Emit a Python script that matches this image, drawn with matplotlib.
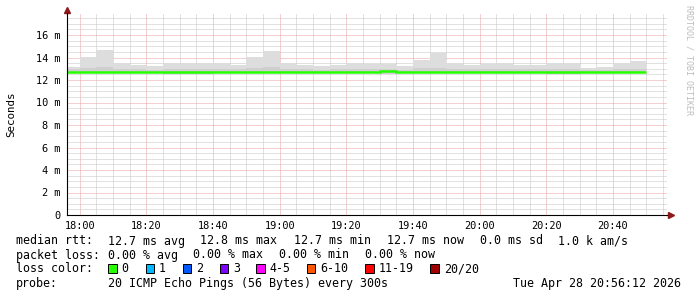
import matplotlib
matplotlib.use("Agg")
import matplotlib.pyplot as plt
import numpy as np

# smokeping style latency graph, 5 minute bins, minutes after 18:00
bin_edges = np.arange(-5, 175, 5)
smoke_hi = [13.13, 14.01, 14.67, 13.48, 13.33, 13.21, 13.48, 13.48, 13.48, 13.48,
            13.33, 14.01, 14.60, 13.48, 13.33, 13.21, 13.33, 13.50, 13.42, 13.42,
            13.21, 13.81, 14.37, 13.50, 13.36, 13.42, 13.50, 13.36, 13.36, 13.48,
            13.48, 13.07, 13.18, 13.50, 13.72]
smoke_lo = [12.62, 12.62, 12.62, 12.62, 12.62, 12.62, 12.50, 12.50, 12.52, 12.62,
            12.62, 12.62, 12.62, 12.62, 12.62, 12.62, 12.62, 12.62, 12.62, 12.53,
            12.62, 12.62, 12.62, 12.62, 12.62, 12.62, 12.62, 12.62, 12.62, 12.53,
            12.53, 12.62, 12.62, 12.62, 12.62]
inner_hi = [12.95, 13.10, 13.15, 12.95, 12.95, 12.90, 12.95, 12.95, 12.95, 12.95,
            12.95, 13.10, 13.15, 12.95, 12.95, 12.90, 12.95, 12.95, 12.95, 12.95,
            12.90, 13.05, 13.10, 12.95, 12.95, 12.95, 12.95, 12.95, 12.95, 12.95,
            12.95, 12.90, 12.90, 12.95, 13.00]
median = [12.72] * 19 + [12.80] + [12.72] * 15

xtick_pos = [0, 20, 40, 60, 80, 100, 120, 140, 160]
xtick_labels = ["18:00", "18:20", "18:40", "19:00", "19:20", "19:40", "20:00", "20:20", "20:40"]
ytick_pos = [0, 2, 4, 6, 8, 10, 12, 14, 16]
ytick_labels = ["0", "2 m", "4 m", "6 m", "8 m", "10 m", "12 m", "14 m", "16 m"]

loss_names = ["0", "1", "2", "3", "4-5", "6-10", "11-19", "20/20"]
loss_colors = ["#26ff00", "#00b8ff", "#0059ff", "#7e00ff", "#ff00ff", "#ff5500", "#ff0000", "#a10000"]
loss_box_x = [108, 145.5, 182.5, 219.5, 256, 306.5, 365, 430]
loss_text_x = [121, 159, 196, 233, 269, 320, 379, 444]

W, H = 697, 297
mono = "DejaVu Sans Mono"

fig = plt.figure(figsize=(W / 100, H / 100), dpi=100)
ax = fig.add_axes([67 / W, 82 / H, 600 / W, 202.5 / H])

# smoke
ax.stairs(smoke_hi, bin_edges, baseline=smoke_lo, fill=True, color="#dddddd", lw=0)
ax.stairs(inner_hi, bin_edges, baseline=smoke_lo, fill=True, color="#cfcfcf", lw=0)
# median rtt
ax.stairs(median, bin_edges, color="#26ff00", lw=1.8, baseline=None)

ax.set_xlim(-3.8, 176.2)
ax.set_ylim(0, 18)
ax.set_xticks(xtick_pos)
ax.set_xticklabels(xtick_labels)
ax.set_xticks([m for m in range(0, 176, 5) if m % 20], minor=True)
ax.set_yticks(ytick_pos)
ax.set_yticklabels(ytick_labels)
ax.set_yticks([v for v in np.arange(0.5, 18.01, 0.5) if v % 2], minor=True)
ax.tick_params(which="both", length=0, labelsize=7.4, labelcolor="#000000")
ax.tick_params(axis="x", pad=4)
ax.tick_params(axis="y", pad=4.5)
for lab in ax.get_xticklabels() + ax.get_yticklabels():
    lab.set_family(mono)

ax.grid(which="minor", color="#c4c4c4", lw=0.72, ls=(0, (1, 1)))
ax.grid(which="major", color="#eba0a0", lw=0.72, ls=(0, (1, 1)))
ax.set_axisbelow(True)

for s in ["top", "right"]:
    ax.spines[s].set_visible(False)
ax.spines["left"].set_color("#000000")
ax.spines["bottom"].set_color("#000000")
ax.spines["left"].set_linewidth(0.8)
ax.spines["bottom"].set_linewidth(0.8)
ax.plot([1.0, 1.008], [0, 0], color="#000000", lw=0.8, transform=ax.transAxes, clip_on=False)
ax.plot([0], [1.013], marker="^", ms=4, color="#8b1a1a", transform=ax.transAxes, clip_on=False)
ax.plot([1.006], [0], marker=">", ms=4, color="#8b1a1a", transform=ax.transAxes, clip_on=False)

def px(x, y):
    return x / W, 1 - y / H

fig.text(*px(11, 114), "Seconds", rotation=90, family=mono, fontsize=7.8,
         ha="center", va="center")
fig.text(*px(689, 5), "RRDTOOL / TOBI OETIKER", rotation=270, family=mono, fontsize=6.0,
         color="#bdbdbd", ha="center", va="top")

fs = 8.4
row1 = [(16, "median rtt:"), (107.5, "12.7 ms avg"), (200.5, "12.8 ms max"),
        (293.5, "12.7 ms min"), (386.7, "12.7 ms now"), (480, "0.0 ms sd"), (558.3, "1.0 k am/s")]
row2 = [(16, "packet loss:"), (107.5, "0.00 % avg"), (193.3, "0.00 % max"),
        (279.3, "0.00 % min"), (365, "0.00 % now")]
row4 = [(16, "probe:"), (107.5, "20 ICMP Echo Pings (56 Bytes) every 300s"),
        (513.3, "Tue Apr 28 20:56:12 2026")]
for y, row in [(241, row1), (255, row2), (283, row4)]:
    for x, t in row:
        fig.text(*px(x, y), t, family=mono, fontsize=fs, ha="left", va="center")

fig.text(*px(16, 269), "loss color:", family=mono, fontsize=fs, ha="left", va="center")
for bx, tx, name, c in zip(loss_box_x, loss_text_x, loss_names, loss_colors):
    fig.patches.append(plt.Rectangle(px(bx, 272.5), 8.5 / W, 8.5 / H, transform=fig.transFigure,
                                     facecolor=c, edgecolor="#000000", lw=0.7))
    fig.text(*px(tx, 269), name, family=mono, fontsize=fs, ha="left", va="center")

fig.savefig("out.png", dpi=100, facecolor="white")
